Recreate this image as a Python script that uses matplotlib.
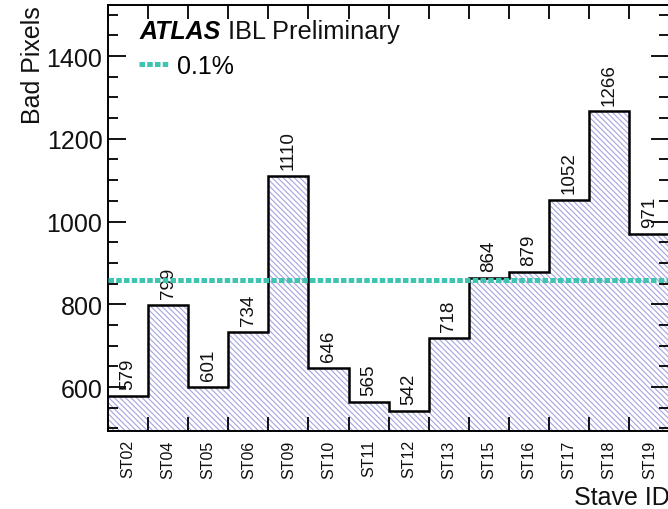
import numpy as np
import matplotlib as mpl
mpl.use('Agg')
import matplotlib.pyplot as plt
from matplotlib.ticker import MultipleLocator, FixedLocator, NullFormatter
from matplotlib.lines import Line2D

staves = ['ST02', 'ST04', 'ST05', 'ST06', 'ST09', 'ST10', 'ST11',
          'ST12', 'ST13', 'ST15', 'ST16', 'ST17', 'ST18', 'ST19']
bad_pixels = [579, 799, 601, 734, 1110, 646, 565, 542, 718, 864, 879,
              1052, 1266, 971]
threshold = 860  # 0.1%

plt.rcParams['font.family'] = ['Liberation Sans', 'DejaVu Sans']
plt.rcParams['hatch.linewidth'] = 0.8

ymin, ymax = 494, 1523
hatch_col = '#a4a4e0'
teal = '#40c4b2'

fig = plt.figure(figsize=(6.68, 5.10), dpi=100)
ax = fig.add_axes([0.1617, 0.153, 1.0 - 0.1617 + 0.002, 0.988 - 0.153])

n = len(staves)
edges = np.arange(n + 1)
centers = edges[:-1] + 0.5
vals = np.array(bad_pixels)

#--- hatched fill + black outline (ROOT style) ---#
ax.bar(centers, vals - ymin + 50, bottom=ymin - 50, width=1.0,
       color='none', edgecolor=hatch_col, hatch='\\\\\\\\\\\\', linewidth=0)
ax.stairs(vals, edges, baseline=None, color='k', lw=1.8, zorder=3)

ax.axhline(threshold, color=teal, lw=3.6, ls=(0, (1.1, 0.45)), zorder=4)

for c, v in zip(centers, vals):
    ax.annotate('%d' % v, (c, v), xytext=(0, 5), textcoords='offset points',
                rotation=90, ha='center', va='bottom', fontsize=13.5,
                color='#111111')

ax.set_xlim(0, n)
ax.set_ylim(ymin, ymax)

ax.xaxis.set_major_locator(FixedLocator(edges))
ax.xaxis.set_major_formatter(NullFormatter())
ax.xaxis.set_minor_locator(FixedLocator(centers))
ax.set_xticks(centers, staves, minor=True)
ax.tick_params(axis='x', which='major', direction='in', length=10,
               width=1.3, top=True, bottom=True)
ax.tick_params(axis='x', which='minor', length=0, pad=6, labelsize=11.5,
               labelrotation=90, labelcolor='#111111')

ax.yaxis.set_major_locator(MultipleLocator(200))
ax.yaxis.set_minor_locator(MultipleLocator(50))
ax.tick_params(axis='y', which='major', direction='in', length=13,
               width=1.3, left=True, right=True, labelsize=18, pad=4,
               labelcolor='#111111')
ax.tick_params(axis='y', which='minor', direction='in', length=7,
               width=1.3, left=True, right=True)

for sp in ax.spines.values():
    sp.set_linewidth(1.4)

ax.set_ylabel('Bad Pixels', fontsize=18, loc='top', color='#111111')
ax.yaxis.set_label_coords(-0.112, 1.0)
ax.set_xlabel('Stave ID', fontsize=18, loc='right', color='#111111')
ax.xaxis.set_label_coords(1.0, -0.128)

ax.text(0.057, 0.922, 'ATLAS', transform=ax.transAxes, fontsize=18,
        fontweight='bold', style='italic', va='baseline')
ax.text(0.214, 0.922, 'IBL Preliminary', transform=ax.transAxes,
        fontsize=18.3, va='baseline', color='#111111')

ax.legend(handles=[Line2D([0], [0], color=teal, lw=3.6,
                          ls=(0, (1.1, 0.45)))],
          labels=['0.1%'], loc='upper left', bbox_to_anchor=(0.056, 0.885),
          frameon=False, fontsize=18, handlelength=1.2, handletextpad=0.3,
          borderaxespad=0, borderpad=0)

fig.savefig('out.png', dpi=100)
